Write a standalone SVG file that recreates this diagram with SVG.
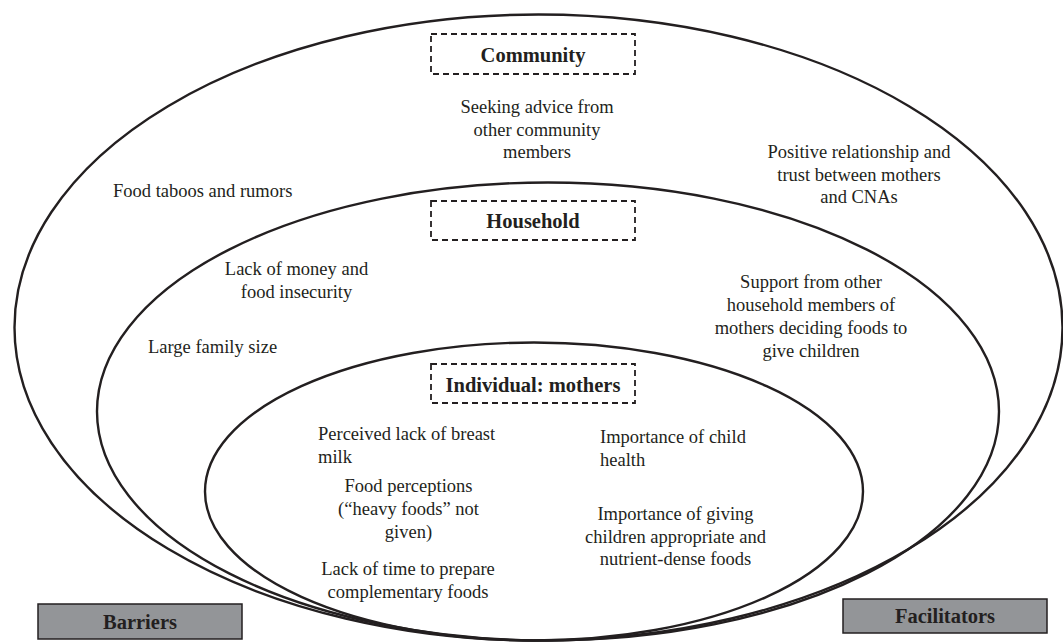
<svg xmlns="http://www.w3.org/2000/svg" width="1063" height="643" viewBox="0 0 1063 643">
<style>
.ring{fill:none;stroke:#231f20;stroke-width:2.4}
.lbl{fill:none;stroke:#231f20;stroke-width:1.8;stroke-dasharray:6 4}
.t{font-family:'Liberation Serif',serif;font-size:18.5px;fill:#231f20}
.c{text-anchor:middle}
.b{font-family:'Liberation Serif',serif;font-size:20.5px;font-weight:bold;fill:#231f20;text-anchor:middle}
.key{fill:#939598;stroke:#231f20;stroke-width:1.5}
</style>
<rect width="1063" height="643" fill="#ffffff"/>
<g id="rings">
<ellipse id="ring-community" class="ring" cx="538.5" cy="327.5" rx="524" ry="313"/>
<ellipse id="ring-household" class="ring" cx="548" cy="411.5" rx="451" ry="229"/>
<ellipse id="ring-individual" class="ring" cx="534" cy="491.5" rx="329" ry="149"/>
</g>
<g id="community">
<rect class="lbl" x="431" y="34" width="204" height="40"/>
<text class="b" x="533" y="62">Community</text>
</g>
<g id="household">
<rect class="lbl" x="431" y="201" width="204" height="39"/>
<text class="b" x="533" y="228">Household</text>
</g>
<g id="individual">
<rect class="lbl" x="431" y="364" width="204" height="39"/>
<text class="b" x="533" y="392">Individual: mothers</text>
</g>
<g id="community-items">
<text class="t c" x="537" y="113">Seeking advice from</text>
<text class="t c" x="537" y="135.5">other community</text>
<text class="t c" x="537" y="158">members</text>
<text class="t" x="113" y="197">Food taboos and rumors</text>
<text class="t c" x="859" y="158">Positive relationship and</text>
<text class="t c" x="859" y="180.5">trust between mothers</text>
<text class="t c" x="859" y="203">and CNAs</text>
</g>
<g id="household-items">
<text class="t c" x="296.5" y="275">Lack of money and</text>
<text class="t c" x="296.5" y="298">food insecurity</text>
<text class="t" x="148" y="353">Large family size</text>
<text class="t c" x="811" y="288">Support from other</text>
<text class="t c" x="811" y="311">household members of</text>
<text class="t c" x="811" y="334">mothers deciding foods to</text>
<text class="t c" x="811" y="357">give children</text>
</g>
<g id="individual-items">
<text class="t" x="318" y="440">Perceived lack of breast</text>
<text class="t" x="318" y="463">milk</text>
<text class="t c" x="408.5" y="492">Food perceptions</text>
<text class="t c" x="408.5" y="515">(“heavy foods” not</text>
<text class="t c" x="408.5" y="538">given)</text>
<text class="t c" x="408" y="575">Lack of time to prepare</text>
<text class="t c" x="408" y="598">complementary foods</text>
<text class="t" x="600" y="443">Importance of child</text>
<text class="t" x="600" y="466">health</text>
<text class="t c" x="675.5" y="520">Importance of giving</text>
<text class="t c" x="675.5" y="543">children appropriate and</text>
<text class="t c" x="675.5" y="565">nutrient-dense foods</text>
</g>
<g id="barriers">
<rect class="key" x="38" y="604" width="204" height="35"/>
<text class="b" x="140" y="629">Barriers</text>
</g>
<g id="facilitators">
<rect class="key" x="843" y="599" width="204" height="34"/>
<text class="b" x="945" y="623">Facilitators</text>
</g>
</svg>
